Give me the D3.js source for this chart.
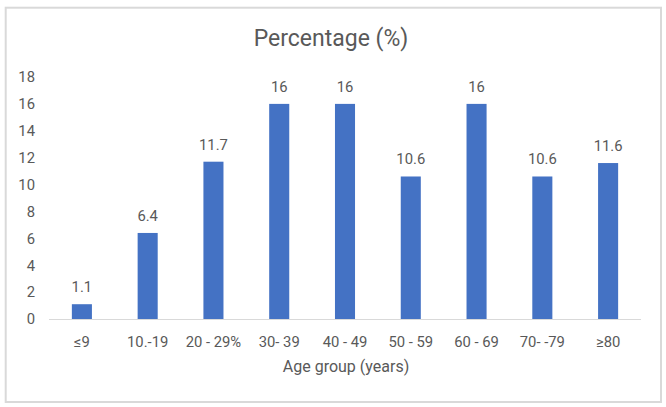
<!DOCTYPE html>
<html><head><meta charset="utf-8">
<script src="https://cdn.jsdelivr.net/npm/d3@7"></script>
<style>body{margin:0;background:#fff}svg{display:block}text{font-family:Roboto,"Noto Sans",sans-serif;fill:#595959}</style>
</head><body><svg id="c" width="666" height="407"></svg>
<script>
const categories = ["≤9", "10.-19", "20 - 29%", "30- 39", "40 - 49", "50 - 59", "60 - 69", "70- -79", "≥80"];
const values = [1.1, 6.4, 11.7, 16, 16, 10.6, 16, 10.6, 11.6];
const yTicks = [0, 2, 4, 6, 8, 10, 12, 14, 16, 18];
const title = "Percentage (%)";
const xTitle = "Age group (years)";

const svg = d3.select("#c");
svg.append("rect").attr("x",5.7).attr("y",7.7).attr("width",655.3).attr("height",394.3)
  .attr("fill","#fff").attr("stroke","#d9d9d9").attr("stroke-width",2);

const x = d3.scaleBand().domain(categories).range([49,641]).paddingInner(0.695).paddingOuter(0.3475);
const y = d3.scaleLinear().domain([0,18]).range([319,77]);

svg.append("text").attr("x",331).attr("y",46).attr("text-anchor","middle")
  .style("font-size","23px").text(title);

svg.append("g").selectAll("text").data(yTicks).join("text")
  .attr("x",35).attr("y",d=>y(d)).attr("dy","0.36em").attr("text-anchor","end")
  .style("font-size","14.8px").text(d=>d);

svg.append("g").selectAll("rect").data(values).join("rect")
  .attr("x",(d,i)=>x(categories[i])).attr("width",x.bandwidth())
  .attr("y",d=>y(d)).attr("height",d=>y(0)-y(d)).attr("fill","#4472C4");

svg.append("line").attr("x1",49).attr("x2",641).attr("y1",y(0)+0.5).attr("y2",y(0)+0.5)
  .attr("stroke","#d9d9d9").attr("stroke-width",1);

svg.append("g").selectAll("text").data(values).join("text")
  .attr("x",(d,i)=>x(categories[i])+x.bandwidth()/2).attr("y",d=>y(d)-12)
  .attr("text-anchor","middle").style("font-size","14.8px").text(d=>d);

svg.append("g").selectAll("text").data(categories).join("text")
  .attr("x",d=>x(d)+x.bandwidth()/2).attr("y",347).attr("text-anchor","middle")
  .style("font-size","14.8px").text(d=>d);

svg.append("text").attr("x",346).attr("y",372).attr("text-anchor","middle")
  .style("font-size","16px").text(xTitle);
</script></body></html>
